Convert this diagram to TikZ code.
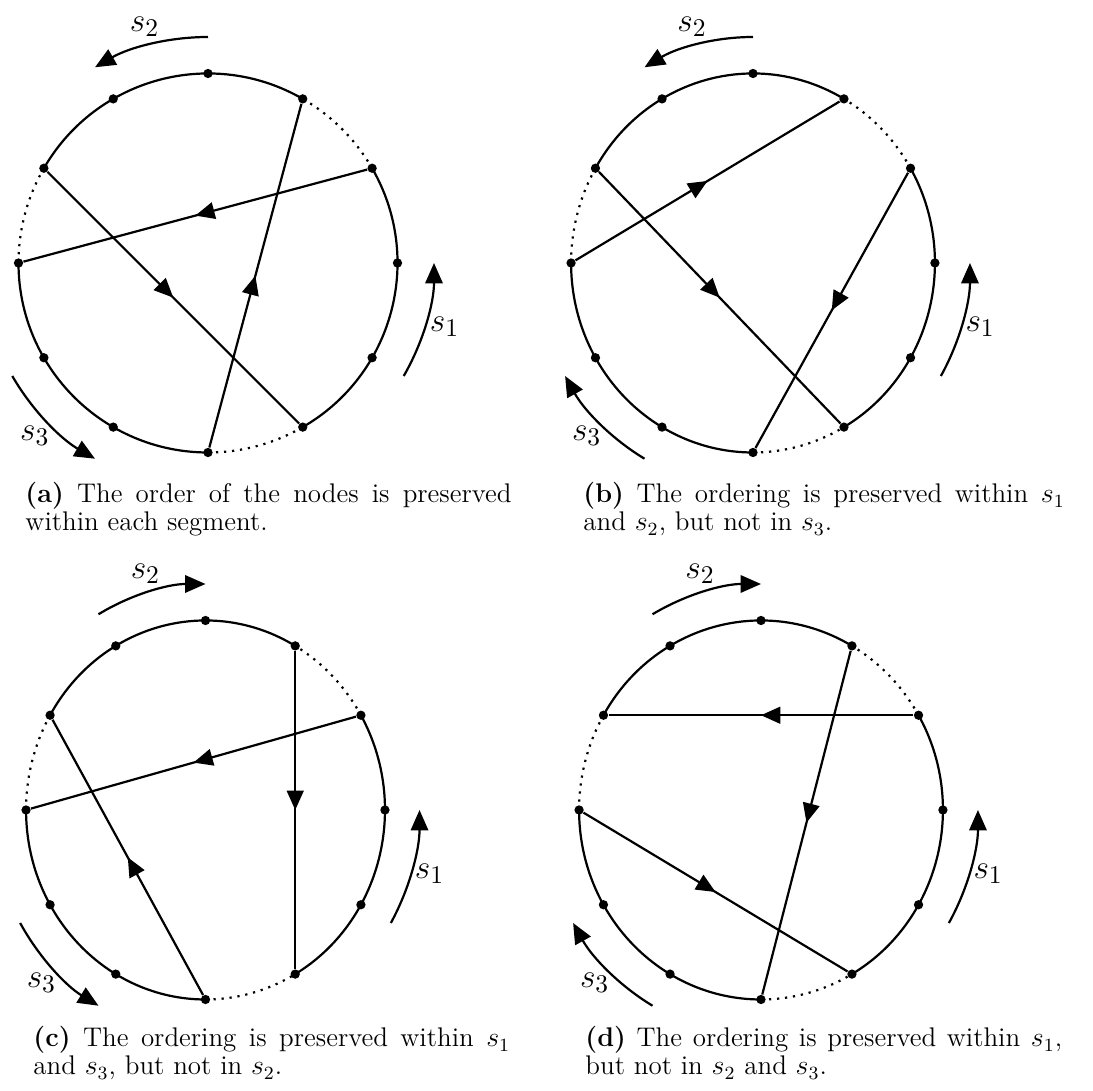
\documentclass[tikz,border=0pt]{standalone}
\usepackage{tikz}
\usetikzlibrary{arrows.meta, decorations.markings}

% twelve nodes on the rim, dotted arcs between the segments
\newcommand{\drawrim}[1]{%
  \foreach \k in {0,...,11}
    \node[dot] (#1\k) at (\k*30:189.5) {};
  \draw[rim] (#110.center) arc[start angle=-60, end angle=30, radius=189.5];
  \draw[rim] (#12.center) arc[start angle=60, end angle=150, radius=189.5];
  \draw[rim] (#16.center) arc[start angle=180, end angle=270, radius=189.5];
  \draw[gap] (#11.center) arc[start angle=30, end angle=60, radius=189.5];
  \draw[gap] (#15.center) arc[start angle=150, end angle=180, radius=189.5];
  \draw[gap] (#19.center) arc[start angle=270, end angle=300, radius=189.5];
}

\begin{document}
\begin{tikzpicture}[
  x=0.43pt, y=0.43pt,
  dot/.style={circle, fill, inner sep=0pt, minimum size=4pt},
  rim/.style={line width=0.95pt},
  gap/.style={line width=0.95pt, dash pattern=on 0.95pt off 2.5pt},
  chord/.style={line width=0.95pt, postaction={decorate},
    decoration={markings, mark=at position 0.5 with {\arrow{Triangle[length=8.3pt, width=7.2pt]}}}},
  seg/.style={line width=0.95pt, -{Triangle[length=8.8pt, width=7.5pt]}},
  lbl/.style={font=\fontsize{15}{18}\selectfont},
  captext/.style={anchor=base west, inner sep=0pt, align=justify, font=\fontsize{11.6}{12}\selectfont}
]
\useasboundingbox (0,0) rectangle (1093,1091);

% (a)
\begin{scope}[shift={(208,828)}]
  \drawrim{a}
  \draw[chord] (a9) -- (a2);
  \draw[chord] (a1) -- (a6);
  \draw[chord] (a5) -- (a10);
  \draw[seg] (-30:226) arc[start angle=-30, end angle=0, radius=226];
  \draw[seg] (90:226) arc[start angle=90, end angle=120, radius=226];
  \draw[seg] (210:226) arc[start angle=210, end angle=240, radius=226];
  \node[lbl] (as1) at (-15:245) {$s_1$};
  \node[lbl] (as2) at (105:245) {$s_2$};
  \node[lbl] (as3) at (225:245) {$s_3$};
\end{scope}
\node[captext, text width=209pt] (capa) at (25,588)
  {\textbf{(a)} The order of the nodes is preserved\linebreak within each segment.};

% (b)
\begin{scope}[shift={(753,828)}, xscale=0.96]
  \drawrim{b}
  \draw[chord] (b6) -- (b2);
  \draw[chord] (b5) -- (b10);
  \draw[chord] (b1) -- (b9);
  \draw[seg] (-30:226) arc[start angle=-30, end angle=0, radius=226];
  \draw[seg] (90:226) arc[start angle=90, end angle=120, radius=226];
  \draw[seg] (240:226) arc[start angle=240, end angle=210, radius=226];
  \node[lbl] (bs1) at (-15:245) {$s_1$};
  \node[lbl] (bs2) at (105:245) {$s_2$};
  \node[lbl] (bs3) at (225:245) {$s_3$};
\end{scope}
\node[captext, text width=207pt] (capb) at (583,588)
  {\textbf{(b)} The ordering is preserved within $s_1$\linebreak and $s_2$, but not in $s_3$.};

% (c)
\begin{scope}[shift={(205.5,281)}, xscale=0.947]
  \drawrim{c}
  \draw[chord] (c2) -- (c10);
  \draw[chord] (c1) -- (c6);
  \draw[chord] (c9) -- (c5);
  \draw[seg] (-30:226) arc[start angle=-30, end angle=0, radius=226];
  \draw[seg] (120:226) arc[start angle=120, end angle=90, radius=226];
  \draw[seg] (210:226) arc[start angle=210, end angle=240, radius=226];
  \node[lbl] (cs1) at (-15:245) {$s_1$};
  \node[lbl] (cs2) at (105:245) {$s_2$};
  \node[lbl] (cs3) at (225:245) {$s_3$};
\end{scope}
\node[captext, text width=205pt] (capc) at (33,44)
  {\textbf{(c)} The ordering is preserved within $s_1$\linebreak and $s_3$, but not in $s_2$.};

% (d)
\begin{scope}[shift={(761,281)}, xscale=0.96]
  \drawrim{d}
  \draw[chord] (d1) -- (d5);
  \draw[chord] (d2) -- (d9);
  \draw[chord] (d6) -- (d10);
  \draw[seg] (-30:226) arc[start angle=-30, end angle=0, radius=226];
  \draw[seg] (120:226) arc[start angle=120, end angle=90, radius=226];
  \draw[seg] (240:226) arc[start angle=240, end angle=210, radius=226];
  \node[lbl] (ds1) at (-15:245) {$s_1$};
  \node[lbl] (ds2) at (105:245) {$s_2$};
  \node[lbl] (ds3) at (225:245) {$s_3$};
\end{scope}
\node[captext, text width=205pt] (capd) at (585,44)
  {\textbf{(d)} The ordering is preserved within $s_1$,\linebreak but not in $s_2$ and $s_3$.};
\end{tikzpicture}
\end{document}
